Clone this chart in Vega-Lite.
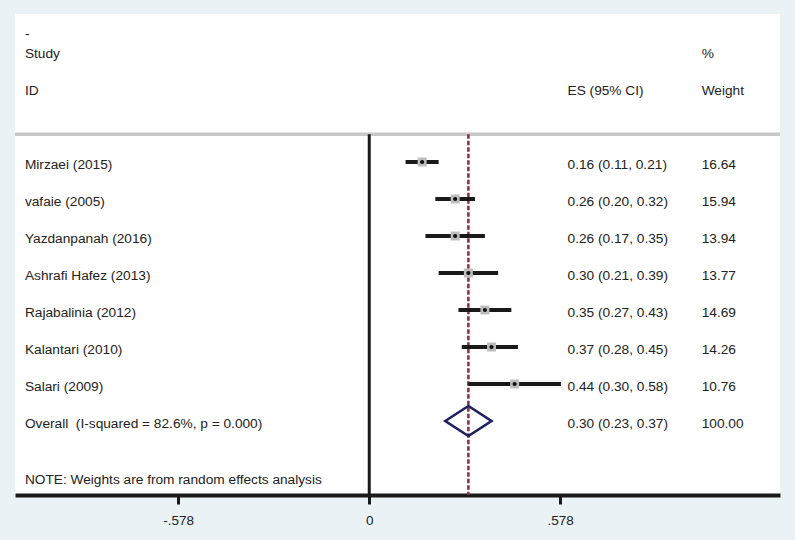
{
  "$schema": "https://vega.github.io/schema/vega-lite/v6.json",
  "width": 765,
  "height": 481,
  "autosize": {"type": "none"},
  "padding": {"left": 15, "top": 14, "right": 15, "bottom": 45},
  "background": "#EAF2F5",
  "config": {
    "view": {"fill": "white", "stroke": null},
    "font": "Liberation Sans",
    "text": {"font": "Liberation Sans", "fontSize": 13.7, "color": "#222222"}
  },
  "datasets": {
    "studies": [
      {"study": "Mirzaei (2015)", "row": 1, "es": 0.16, "lo": 0.11, "hi": 0.21, "ci": "0.16 (0.11, 0.21)", "weight": "16.64"},
      {"study": "vafaie (2005)", "row": 2, "es": 0.26, "lo": 0.20, "hi": 0.32, "ci": "0.26 (0.20, 0.32)", "weight": "15.94"},
      {"study": "Yazdanpanah (2016)", "row": 3, "es": 0.26, "lo": 0.17, "hi": 0.35, "ci": "0.26 (0.17, 0.35)", "weight": "13.94"},
      {"study": "Ashrafi Hafez (2013)", "row": 4, "es": 0.30, "lo": 0.21, "hi": 0.39, "ci": "0.30 (0.21, 0.39)", "weight": "13.77"},
      {"study": "Rajabalinia (2012)", "row": 5, "es": 0.35, "lo": 0.27, "hi": 0.43, "ci": "0.35 (0.27, 0.43)", "weight": "14.69"},
      {"study": "Kalantari (2010)", "row": 6, "es": 0.37, "lo": 0.28, "hi": 0.45, "ci": "0.37 (0.28, 0.45)", "weight": "14.26"},
      {"study": "Salari (2009)", "row": 7, "es": 0.44, "lo": 0.30, "hi": 0.58, "ci": "0.44 (0.30, 0.58)", "weight": "10.76"}
    ],
    "overall": [
      {"study": "Overall\u00a0 (I-squared = 82.6%, p = 0.000)", "row": 8, "es": 0.30, "lo": 0.23, "hi": 0.37, "ci": "0.30 (0.23, 0.37)", "weight": "100.00"}
    ],
    "headers": [
      {"text": "-", "row": -2.55, "col": "left"},
      {"text": "Study", "row": -2, "col": "left"},
      {"text": "ID", "row": -1, "col": "left"},
      {"text": "ES (95% CI)", "row": -1, "col": "es"},
      {"text": "%", "row": -2, "col": "wt"},
      {"text": "Weight", "row": -1, "col": "wt"},
      {"text": "NOTE: Weights are from random effects analysis", "row": 9.5, "col": "left"}
    ]
  },
  "encoding": {
    "x": {
      "type": "quantitative",
      "scale": {"domain": [-1.072, 1.243], "nice": false, "zero": false},
      "axis": {
        "values": [-0.578, 0, 0.578],
        "title": null,
        "grid": false,
        "domainColor": "#1a1a1a",
        "domainWidth": 4,
        "tickColor": "#1a1a1a",
        "tickWidth": 3,
        "tickSize": 9,
        "labelPadding": 9,
        "labelFont": "Liberation Sans",
        "labelFontSize": 13.5,
        "labelColor": "#222222",
        "labelExpr": "replace(replace(format(datum.value, '.3~f'), '0.', '.'), '\u2212', '-')"
      }
    },
    "y": {
      "type": "quantitative",
      "scale": {"domain": [-3, 10], "reverse": true, "nice": false, "zero": false},
      "axis": null
    }
  },
  "layer": [
    {
      "data": {"values": [{"ref": 0.25}]},
      "mark": {"type": "rule", "color": "#C8C8C8", "strokeWidth": 3.3},
      "encoding": {"y": {"field": "ref"}}
    },
    {
      "data": {"values": [{"x": 0, "top": 0.25, "bottom": 10}]},
      "mark": {"type": "rule", "color": "#1a1a1a", "strokeWidth": 3},
      "encoding": {"x": {"field": "x"}, "y": {"field": "top"}, "y2": {"field": "bottom"}}
    },
    {
      "data": {"name": "overall"},
      "mark": {"type": "rule", "color": "#8B3445", "strokeWidth": 2.6, "strokeDash": [4.5, 2]},
      "encoding": {"x": {"field": "es"}, "y": {"datum": 0.25}, "y2": {"datum": 10}}
    },
    {
      "data": {"name": "studies"},
      "mark": {"type": "rule", "color": "#1a1a1a", "strokeWidth": 4},
      "encoding": {"x": {"field": "lo"}, "x2": {"field": "hi"}, "y": {"field": "row"}}
    },
    {
      "data": {"name": "studies"},
      "mark": {"type": "point", "shape": "square", "filled": true, "color": "#BDBDBD", "size": 80, "opacity": 1},
      "encoding": {"x": {"field": "es"}, "y": {"field": "row"}}
    },
    {
      "data": {"name": "studies"},
      "mark": {"type": "point", "shape": "circle", "filled": true, "color": "#111111", "size": 18, "opacity": 1},
      "encoding": {"x": {"field": "es"}, "y": {"field": "row"}}
    },
    {
      "data": {"name": "overall"},
      "mark": {"type": "point", "shape": "M-1,0L0,-0.648L1,0L0,0.648Z", "filled": false, "stroke": "#1E2160", "strokeWidth": 2.6, "size": 2140, "opacity": 1},
      "encoding": {"x": {"field": "es"}, "y": {"field": "row"}}
    },
    {
      "data": {"name": "studies"},
      "mark": {"type": "text", "align": "left", "baseline": "middle", "dy": 3},
      "encoding": {"x": {"datum": -1.042}, "y": {"field": "row"}, "text": {"field": "study"}}
    },
    {
      "data": {"name": "studies"},
      "mark": {"type": "text", "align": "left", "baseline": "middle", "dy": 3},
      "encoding": {"x": {"datum": 0.6}, "y": {"field": "row"}, "text": {"field": "ci"}}
    },
    {
      "data": {"name": "studies"},
      "mark": {"type": "text", "align": "left", "baseline": "middle", "dy": 3},
      "encoding": {"x": {"datum": 1.006}, "y": {"field": "row"}, "text": {"field": "weight"}}
    },
    {
      "data": {"name": "overall"},
      "mark": {"type": "text", "align": "left", "baseline": "middle", "dy": 3},
      "encoding": {"x": {"datum": -1.042}, "y": {"field": "row"}, "text": {"field": "study"}}
    },
    {
      "data": {"name": "overall"},
      "mark": {"type": "text", "align": "left", "baseline": "middle", "dy": 3},
      "encoding": {"x": {"datum": 0.6}, "y": {"field": "row"}, "text": {"field": "ci"}}
    },
    {
      "data": {"name": "overall"},
      "mark": {"type": "text", "align": "left", "baseline": "middle", "dy": 3},
      "encoding": {"x": {"datum": 1.006}, "y": {"field": "row"}, "text": {"field": "weight"}}
    },
    {
      "data": {"name": "headers"},
      "transform": [{"filter": "datum.col == 'left'"}],
      "mark": {"type": "text", "align": "left", "baseline": "middle", "dy": 3},
      "encoding": {"x": {"datum": -1.042}, "y": {"field": "row"}, "text": {"field": "text"}}
    },
    {
      "data": {"name": "headers"},
      "transform": [{"filter": "datum.col == 'es'"}],
      "mark": {"type": "text", "align": "left", "baseline": "middle", "dy": 3},
      "encoding": {"x": {"datum": 0.6}, "y": {"field": "row"}, "text": {"field": "text"}}
    },
    {
      "data": {"name": "headers"},
      "transform": [{"filter": "datum.col == 'wt'"}],
      "mark": {"type": "text", "align": "left", "baseline": "middle", "dy": 3},
      "encoding": {"x": {"datum": 1.006}, "y": {"field": "row"}, "text": {"field": "text"}}
    }
  ]
}
